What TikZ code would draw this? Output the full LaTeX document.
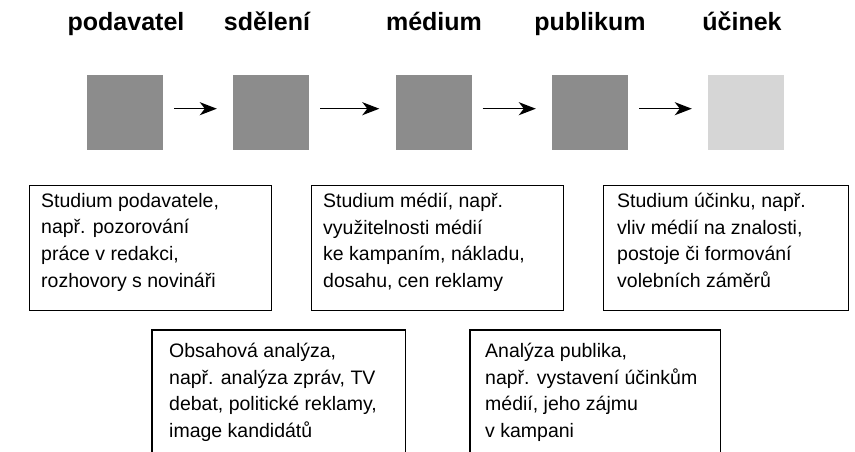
\documentclass[tikz,border=0pt]{standalone}
\usepackage{fontspec}
\setmainfont{Liberation Sans}
\usetikzlibrary{arrows.meta}
\begin{document}
\begin{tikzpicture}[x=1pt,y=-1pt,
  heading/.style={font=\fontsize{25}{30}\selectfont\bfseries, anchor=base, inner sep=0},
  panel/.style={fill=black!45, minimum width=76pt, minimum height=75pt, inner sep=0, anchor=north},
  lightpanel/.style={panel, fill=black!16},
  flow/.style={line width=1.5pt, -{Stealth[length=17pt,width=13pt,inset=5pt]}, shorten <=11pt, shorten >=16pt},
  frame/.style={draw, line width=1.4pt, inner sep=0, anchor=north west, minimum height=125pt},
  openframe/.style={inner sep=0, anchor=north west, minimum height=140pt},
  edge/.style={line width=1.4pt},
  note/.style={font=\fontsize{19.5}{26.6}\selectfont, align=left, inner sep=0, anchor=north west}]
\useasboundingbox (0,0) rectangle (855,452);
\clip (0,0) rectangle (855,452);

% stage headings
\node[heading] (h1) at (126,31) {podavatel};
\node[heading] (h2) at (267,31) {sdělení};
\node[heading] (h3) at (434,31) {médium};
\node[heading] (h4) at (590,31) {publikum};
\node[heading] (h5) at (742,31) {účinek};

% shaded stage squares
\node[panel] (s1) at (125,75) {};
\node[panel] (s2) at (271,75) {};
\node[panel] (s3) at (433.5,75) {};
\node[panel] (s4) at (590,75) {};
\node[lightpanel] (s5) at (746,75) {};

% flow arrows
\draw[flow] ([yshift=4pt]s1.east) -- ([yshift=4pt]s2.west);
\draw[flow] ([yshift=4pt]s2.east) -- ([yshift=4pt]s3.west);
\draw[flow] ([yshift=4pt]s3.east) -- ([yshift=4pt]s4.west);
\draw[flow] ([yshift=4pt]s4.east) -- ([yshift=4pt]s5.west);

% upper row of research boxes
\node[frame, minimum width=242pt] (b1) at (29,185) {};
\node[frame, minimum width=252pt] (b3) at (311,185) {};
\node[frame, minimum width=245pt] (b5) at (603,185) {};

\node[note] (t1) at ([shift={(12pt,-8pt)}]b1.north west)
  {Studium podavatele,\\např. pozorování\\práce v redakci,\\rozhovory s novináři};
\node[note] (t3) at ([shift={(12pt,-8pt)}]b3.north west)
  {Studium médií, např.\\využitelnosti médií\\ke kampaním, nákladu,\\dosahu, cen reklamy};
\node[note] (t5) at ([shift={(14pt,-8pt)}]b5.north west)
  {Studium účinku, např.\\vliv médií na znalosti,\\postoje či formování\\volebních záměrů};

% lower row, open at the bottom
\node[openframe, minimum width=253pt] (b2) at (152,330) {};
\node[openframe, minimum width=250pt] (b4) at (470,330) {};
\draw[edge] (b2.south west) -- (b2.north west) -- (b2.north east) -- (b2.south east);
\draw[edge] (b4.south west) -- (b4.north west) -- (b4.north east) -- (b4.south east);

\node[note] (t2) at ([shift={(17pt,-13pt)}]b2.north west)
  {Obsahová analýza,\\např. analýza zpráv, TV\\debat, politické reklamy,\\image kandidátů};
\node[note] (t4) at ([shift={(15pt,-13pt)}]b4.north west)
  {Analýza publika,\\např. vystavení účinkům\\médií, jeho zájmu\\v kampani};
\end{tikzpicture}
\end{document}
